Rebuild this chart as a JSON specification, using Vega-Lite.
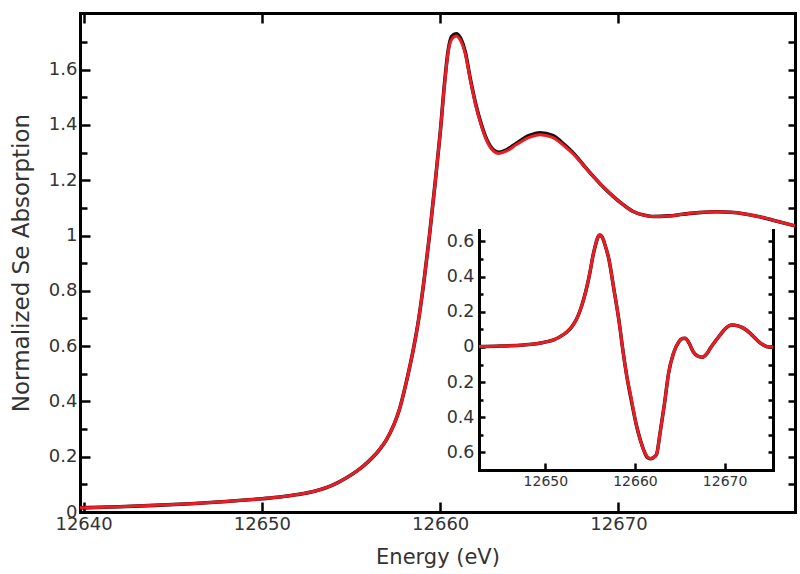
{
  "$schema": "https://vega.github.io/schema/vega-lite/v6.json",
  "width": 715,
  "height": 499,
  "autosize": "none",
  "padding": {"left": 80, "top": 13, "right": 5, "bottom": 62},
  "background": "white",
  "config": {
    "view": {"stroke": null},
    "axis": {
      "domainColor": "black", "domainWidth": 3, "domainCap": "square",
      "tickColor": "black", "tickWidth": 2.5, "grid": false,
      "labelFont": "DejaVu Sans", "labelColor": "#333333", "labelFontSize": 18,
      "titleFont": "DejaVu Sans", "titleColor": "#333333", "titleFontWeight": "normal",
      "labelFlush": false, "labelOverlap": false
    }
  },
  "datasets": {
    "main": [
      {"E": 12639.8, "k": 0.015, "r": 0.015},
      {"E": 12642, "k": 0.019, "r": 0.019},
      {"E": 12644, "k": 0.024, "r": 0.024},
      {"E": 12646, "k": 0.030, "r": 0.030},
      {"E": 12648, "k": 0.038, "r": 0.038},
      {"E": 12650, "k": 0.048, "r": 0.048},
      {"E": 12651, "k": 0.054, "r": 0.054},
      {"E": 12652, "k": 0.063, "r": 0.063},
      {"E": 12653, "k": 0.076, "r": 0.076},
      {"E": 12654, "k": 0.098, "r": 0.098},
      {"E": 12654.7, "k": 0.122, "r": 0.122},
      {"E": 12655.3, "k": 0.147, "r": 0.147},
      {"E": 12655.7, "k": 0.167, "r": 0.167},
      {"E": 12656.2, "k": 0.197, "r": 0.197},
      {"E": 12656.6, "k": 0.226, "r": 0.226},
      {"E": 12657.0, "k": 0.263, "r": 0.263},
      {"E": 12657.4, "k": 0.315, "r": 0.315},
      {"E": 12657.7, "k": 0.368, "r": 0.368},
      {"E": 12658.1, "k": 0.47, "r": 0.47},
      {"E": 12658.5, "k": 0.59, "r": 0.59},
      {"E": 12658.8, "k": 0.70, "r": 0.70},
      {"E": 12659.1, "k": 0.84, "r": 0.84},
      {"E": 12659.4, "k": 1.0, "r": 1.0},
      {"E": 12659.7, "k": 1.18, "r": 1.18},
      {"E": 12660.0, "k": 1.37, "r": 1.37},
      {"E": 12660.25, "k": 1.555, "r": 1.55},
      {"E": 12660.45, "k": 1.67, "r": 1.665},
      {"E": 12660.65, "k": 1.72, "r": 1.71},
      {"E": 12660.9, "k": 1.73, "r": 1.722},
      {"E": 12661.15, "k": 1.713, "r": 1.705},
      {"E": 12661.4, "k": 1.666, "r": 1.66},
      {"E": 12661.7, "k": 1.564, "r": 1.56},
      {"E": 12662.0, "k": 1.474, "r": 1.47},
      {"E": 12662.3, "k": 1.404, "r": 1.40},
      {"E": 12662.6, "k": 1.349, "r": 1.345},
      {"E": 12663.0, "k": 1.309, "r": 1.305},
      {"E": 12663.3, "k": 1.301, "r": 1.297},
      {"E": 12663.7, "k": 1.309, "r": 1.305},
      {"E": 12664.3, "k": 1.335, "r": 1.33},
      {"E": 12665.0, "k": 1.362, "r": 1.355},
      {"E": 12665.6, "k": 1.372, "r": 1.365},
      {"E": 12666.3, "k": 1.362, "r": 1.355},
      {"E": 12667.0, "k": 1.327, "r": 1.322},
      {"E": 12667.5, "k": 1.296, "r": 1.293},
      {"E": 12668.0, "k": 1.258, "r": 1.257},
      {"E": 12668.6, "k": 1.213, "r": 1.213},
      {"E": 12669.2, "k": 1.172, "r": 1.172},
      {"E": 12669.7, "k": 1.142, "r": 1.142},
      {"E": 12670.3, "k": 1.11, "r": 1.11},
      {"E": 12670.8, "k": 1.088, "r": 1.088},
      {"E": 12671.4, "k": 1.074, "r": 1.074},
      {"E": 12671.9, "k": 1.069, "r": 1.069},
      {"E": 12672.8, "k": 1.071, "r": 1.071},
      {"E": 12673.6, "k": 1.077, "r": 1.077},
      {"E": 12674.5, "k": 1.083, "r": 1.083},
      {"E": 12675.5, "k": 1.086, "r": 1.086},
      {"E": 12676.3, "k": 1.084, "r": 1.084},
      {"E": 12677.0, "k": 1.079, "r": 1.079},
      {"E": 12677.7, "k": 1.071, "r": 1.071},
      {"E": 12678.3, "k": 1.062, "r": 1.062},
      {"E": 12679.0, "k": 1.05, "r": 1.05},
      {"E": 12679.9, "k": 1.035, "r": 1.035}
    ],
    "deriv": [
      {"E": 12642.6, "k": 0.002, "r": 0.002},
      {"E": 12645, "k": 0.005, "r": 0.005},
      {"E": 12647.6, "k": 0.011, "r": 0.011},
      {"E": 12649, "k": 0.018, "r": 0.018},
      {"E": 12650.2, "k": 0.03, "r": 0.03},
      {"E": 12651, "k": 0.042, "r": 0.042},
      {"E": 12651.7, "k": 0.06, "r": 0.06},
      {"E": 12652.4, "k": 0.085, "r": 0.085},
      {"E": 12653.0, "k": 0.118, "r": 0.118},
      {"E": 12653.5, "k": 0.16, "r": 0.16},
      {"E": 12653.9, "k": 0.21, "r": 0.21},
      {"E": 12654.3, "k": 0.275, "r": 0.275},
      {"E": 12654.65, "k": 0.345, "r": 0.345},
      {"E": 12655.0, "k": 0.43, "r": 0.43},
      {"E": 12655.3, "k": 0.515, "r": 0.515},
      {"E": 12655.6, "k": 0.58, "r": 0.58},
      {"E": 12655.85, "k": 0.622, "r": 0.622},
      {"E": 12656.1, "k": 0.636, "r": 0.636},
      {"E": 12656.35, "k": 0.625, "r": 0.625},
      {"E": 12656.6, "k": 0.59, "r": 0.59},
      {"E": 12657.1, "k": 0.496, "r": 0.496},
      {"E": 12657.6, "k": 0.344, "r": 0.344},
      {"E": 12658.2, "k": 0.154, "r": 0.154},
      {"E": 12658.7, "k": -0.036, "r": -0.036},
      {"E": 12659.1, "k": -0.17, "r": -0.17},
      {"E": 12659.5, "k": -0.28, "r": -0.27},
      {"E": 12660.2, "k": -0.454, "r": -0.454},
      {"E": 12660.6, "k": -0.53, "r": -0.53},
      {"E": 12661.0, "k": -0.59, "r": -0.59},
      {"E": 12661.4, "k": -0.63, "r": -0.626},
      {"E": 12661.7, "k": -0.636, "r": -0.634},
      {"E": 12662.05, "k": -0.63, "r": -0.63},
      {"E": 12662.4, "k": -0.612, "r": -0.612},
      {"E": 12662.8, "k": -0.49, "r": -0.49},
      {"E": 12663.3, "k": -0.32, "r": -0.32},
      {"E": 12663.75, "k": -0.15, "r": -0.15},
      {"E": 12664.3, "k": -0.036, "r": -0.036},
      {"E": 12664.9, "k": 0.03, "r": 0.03},
      {"E": 12665.3, "k": 0.048, "r": 0.048},
      {"E": 12665.6, "k": 0.05, "r": 0.05},
      {"E": 12666.0, "k": 0.025, "r": 0.025},
      {"E": 12666.5, "k": -0.027, "r": -0.027},
      {"E": 12667.0, "k": -0.052, "r": -0.052},
      {"E": 12667.5, "k": -0.059, "r": -0.059},
      {"E": 12668.0, "k": -0.04, "r": -0.04},
      {"E": 12668.4, "k": -0.008, "r": -0.008},
      {"E": 12669.0, "k": 0.035, "r": 0.035},
      {"E": 12669.5, "k": 0.068, "r": 0.068},
      {"E": 12670.1, "k": 0.105, "r": 0.105},
      {"E": 12670.8, "k": 0.125, "r": 0.125},
      {"E": 12671.5, "k": 0.12, "r": 0.12},
      {"E": 12672.1, "k": 0.107, "r": 0.107},
      {"E": 12672.8, "k": 0.08, "r": 0.08},
      {"E": 12673.4, "k": 0.05, "r": 0.05},
      {"E": 12674.0, "k": 0.022, "r": 0.022},
      {"E": 12674.5, "k": 0.006, "r": 0.006},
      {"E": 12675.0, "k": 0.0, "r": 0.0},
      {"E": 12675.4, "k": 0.0, "r": 0.0}
    ]
  },
  "layer": [
    {
      "data": {"name": "main"},
      "encoding": {
        "x": {"field": "E", "type": "quantitative",
          "scale": {"domain": [12639.8, 12679.9], "nice": false, "zero": false},
          "axis": {"orient": "bottom", "values": [12640, 12650, 12660, 12670], "format": "d",
            "tickSize": -10, "labelPadding": 13, "title": "Energy (eV)", "titleFontSize": 21, "titlePadding": 13}}
      },
      "layer": [
        {"mark": {"type": "line", "color": "#111111", "strokeWidth": 3.6, "interpolate": "monotone"},
          "encoding": {"y": {"field": "k", "type": "quantitative",
            "scale": {"domain": [0, 1.805], "nice": false, "zero": false},
            "axis": {"orient": "left", "values": [0,0.1,0.2,0.3,0.4,0.5,0.6,0.7,0.8,0.9,1,1.1,1.2,1.3,1.4,1.5,1.6,1.7],
              "labelExpr": "round(datum.value*10)%2==0 ? toString(round(datum.value*10)/10) : ''",
              "tickSize": {"condition": {"test": "round(datum.value*10)%2==0", "value": -10}, "value": -7},
              "labelPadding": 13, "title": "Normalized Se Absorption", "titleFontSize": 23, "titlePadding": 15}}}},
        {"mark": {"type": "line", "color": "#ec1c24", "strokeWidth": 3, "interpolate": "monotone"},
          "encoding": {"y": {"field": "r", "type": "quantitative",
            "scale": {"domain": [0, 1.805], "nice": false, "zero": false},
            "axis": {"orient": "left", "values": [0,0.1,0.2,0.3,0.4,0.5,0.6,0.7,0.8,0.9,1,1.1,1.2,1.3,1.4,1.5,1.6,1.7],
              "labelExpr": "round(datum.value*10)%2==0 ? toString(round(datum.value*10)/10) : ''",
              "tickSize": {"condition": {"test": "round(datum.value*10)%2==0", "value": -10}, "value": -7},
              "labelPadding": 13, "title": "Normalized Se Absorption", "titleFontSize": 23, "titlePadding": 15}}}}
      ]
    },
    {
      "data": {"name": "main"},
      "mark": {"type": "line", "strokeOpacity": 0},
      "encoding": {
        "x": {"field": "E", "type": "quantitative",
          "scale": {"domain": [12639.8, 12679.9], "nice": false, "zero": false},
          "axis": {"orient": "top", "values": [12640, 12650, 12660, 12670], "labels": false, "tickSize": -10, "title": null}},
        "y": {"field": "r", "type": "quantitative",
          "scale": {"domain": [0, 1.805], "nice": false, "zero": false},
          "axis": {"orient": "right", "values": [0.1,0.2,0.3,0.4,0.5,0.6,0.7,0.8,0.9,1,1.1,1.2,1.3,1.4,1.5,1.6,1.7],
            "labels": false, "tickSize": -7, "title": null}}
      }
    },
    {
      "data": {"name": "deriv"},
      "encoding": {
        "x": {"field": "E", "type": "quantitative",
          "scale": {"domain": [12642.6, 12675.4], "range": [399, 693], "nice": false, "zero": false},
          "axis": {"orient": "bottom", "offset": -42, "values": [12650, 12660, 12670], "format": "d",
            "tickSize": -7, "labelFontSize": 14, "labelPadding": 11, "title": null}}
      },
      "layer": [
        {"mark": {"type": "line", "color": "#111111", "strokeWidth": 3.5, "interpolate": "monotone"},
          "encoding": {"y": {"field": "k", "type": "quantitative",
            "scale": {"domain": [-0.70, 0.665], "range": [457, 217], "nice": false, "zero": false},
            "axis": {"orient": "left", "offset": -399, "values": [-0.6,-0.5,-0.4,-0.3,-0.2,-0.1,0,0.1,0.2,0.3,0.4,0.5,0.6],
              "labelExpr": "round(datum.value*10)%2==0 ? toString(abs(round(datum.value*10))/10) : ''",
              "tickSize": {"condition": {"test": "round(datum.value*10)%2==0", "value": -6}, "value": -4},
              "labelFontSize": 17.5, "labelPadding": 11, "title": null}}}},
        {"mark": {"type": "line", "color": "#ec1c24", "strokeWidth": 3, "interpolate": "monotone"},
          "encoding": {"y": {"field": "r", "type": "quantitative",
            "scale": {"domain": [-0.70, 0.665], "range": [457, 217], "nice": false, "zero": false},
            "axis": {"orient": "left", "offset": -399, "values": [-0.6,-0.5,-0.4,-0.3,-0.2,-0.1,0,0.1,0.2,0.3,0.4,0.5,0.6],
              "labelExpr": "round(datum.value*10)%2==0 ? toString(abs(round(datum.value*10))/10) : ''",
              "tickSize": {"condition": {"test": "round(datum.value*10)%2==0", "value": -6}, "value": -4},
              "labelFontSize": 17.5, "labelPadding": 11, "title": null}}}}
      ]
    },
    {
      "data": {"name": "deriv"},
      "mark": {"type": "line", "strokeOpacity": 0},
      "encoding": {
        "x": {"field": "E", "type": "quantitative",
          "scale": {"domain": [12642.6, 12675.4], "range": [399, 693], "nice": false, "zero": false},
          "axis": null},
        "y": {"field": "r", "type": "quantitative",
          "scale": {"domain": [-0.70, 0.665], "range": [457, 217], "nice": false, "zero": false},
          "axis": {"orient": "right", "offset": -22, "values": [-0.6,-0.5,-0.4,-0.3,-0.2,-0.1,0,0.1,0.2,0.3,0.4,0.5,0.6],
            "labels": false, "tickSize": -5, "title": null}}
      }
    }
  ],
  "resolve": {
    "scale": {"x": "independent", "y": "independent"},
    "axis": {"x": "independent", "y": "independent"}
  }
}
